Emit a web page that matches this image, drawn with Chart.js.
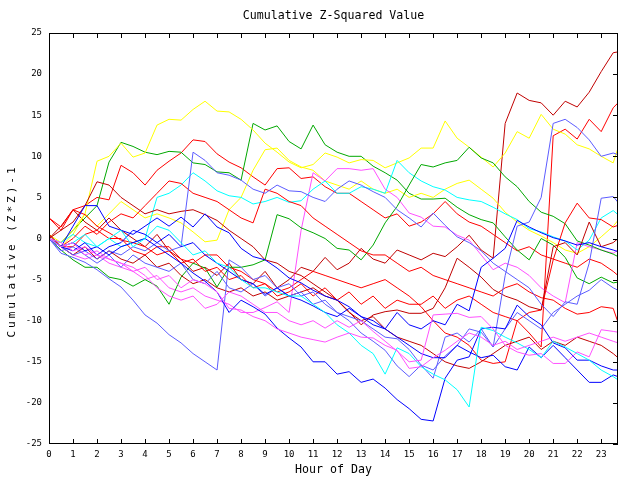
<!DOCTYPE html>
<html>
<head>
<meta charset="utf-8">
<title>Cumulative Z-Squared Value</title>
<style>
body{margin:0;background:#fff;}
canvas{display:block;}
</style>
</head>
<body>
<canvas id="chart" width="640" height="480"></canvas>
<script src="https://cdn.jsdelivr.net/npm/chart.js"></script>
<script>
// hour of day, half-hour steps
const hours = [0,0.5,1,1.5,2,2.5,3,3.5, 4,4.5,5,5.5,6,6.5,7,7.5, 8,8.5,9,9.5,10,10.5,11,11.5,
  12,12.5,13,13.5,14,14.5,15,15.5, 16,16.5,17,17.5,18,18.5,19,19.5, 20,20.5,21,21.5,22,22.5,23,23.5, 23.7];

const darkRed1 = [0,1.5,3.5,2,1,2.5,1,0, -1,0.5,-1.5,-2.5,-4,-3.5,-4.5,-3, -5,-5.5,-4,-6,-5,-3.5,-4,-2.3,
  -3.8,-3,-1.2,-2.5,-3,-1.4,-2,-2.6, -1.8,-2.2,-1,0.4,-1.4,-2.4,14,17.7, 16.8,16.5,15,16.7,16,17.8,20.3,22.6, 22.7];
const darkRed2 = [0,1,2,4,6.9,6.5,5,4, 3,3.5,3,3.3,3.5,2.9,2.2,1, 0,-1,-2.6,-3,-4,-4.5,-5.5,-6.5,
  -7.5,-9,-10,-9.5,-11,-12,-12.5,-13, -14,-15,-15.5,-15.8,-15,-14,-13,-12.5, -12,-13.5,-12.5,-13,-12,-12.5,-13,-14, -14.5];
const darkRed3 = [0.5,-1,-2,-1,-2.5,-1.5,-2.5,-3, -2,-3.5,-3,-4.5,-5.5,-5,-6,-6.5, -6,-7,-6.5,-7.5,-7,-6.5,-6,-7,
  -7.5,-8.9,-10.5,-9.3,-8.9,-8.7,-9.1,-9.1, -8.5,-6,-2.4,-3.5,-4.7,-6.2,-7,-7.5, -8.3,-8.7,-1,-0.5,-2,2,-1,-0.5, 0];
const redB = [0,-1,-1,0.5,1,0,0,-1.5, -2,-1,-1,-2.5,-3,-2,-2,-3.5, -4,-5,-5.5,-6.5,-6,-5,-4,-4.5,
  -5,-5.5,-6,-5.5,-5,-6,-7,-8.3, -10,-11.5,-12,-13,-14.8,-15.2,-15,-10, -11.5,-13.2,12.5,13.3,12.1,14.5,13,15.9, 16.5];
const redD = [2.5,1.4,3.5,2.9,1.5,0.7,-0.2,-0.5, -1,-2,-1.5,-3,-2.5,-4,-3.5,-5, -4.5,-6,-5.5,-7,-6.5,-5.5,-7,-6,
  -7.5,-6.5,-8,-7,-8.5,-7.5,-8,-8, -7,-8.5,-7.5,-7,-8,-9,-9.5,-10, -9,-8.7,-2.6,1.9,4.3,2.5,2.3,1.4, 1.6];
const redE = [2.5,1,3.5,4,5,4.7,8.9,8, 6.5,8.3,9.4,10.4,12,11.8,10.3,9.3, 8.6,7.5,6.5,8.5,8.6,7.3,7.5,6.3,
  5.5,5.5,4.5,3.5,2.5,3,1.5,2, 3,4.5,3,2,1.5,0.5,-0.5,-1.5, -1,-2,-2.5,-3,-3.5,-2.5,-3,-4, -4.5];
const redF = [0.5,-1,0,1.5,0.5,2,3,2.5, 4,5.5,7,6.7,5.5,5,4.5,3.5, 2.5,1.9,6,5.5,4.5,4,2.5,1.5,
  0.5,-0.5,-1.5,-2,-2,-3,-4,-3.5, -4.5,-5,-5.5,-6,-6.5,-7,-6,-5.5, -6.5,-7.2,-7.5,-8.5,-9.2,-9,-8.3,-8.5, -10.2];
const greenA = [0,-0.5,1,2.5,4,9.3,11.7,11.2, 10.5,10.2,10.6,10.5,9.2,9,8.1,8, 7.1,14,13.2,13.7,11.8,10.9,13.8,11.4,
  10.5,10,10,8.8,8,7.1,5.5,4.8, 4.8,4.9,3.8,2.9,2.3,1.9,0.2,-1.4, -2.6,0,-0.8,-2.3,-4.8,-5.5,-4.7,-5.4, -5.3];
const greenD = [0,-1.4,-2.6,-3.5,-3.5,-4.7,-5,-5.8, -5,-5.8,-8,-4.7,-3,-3.6,-5.9,-3.5, -3.5,-3.2,-2.6,2.9,2.4,1.3,0.7,0,
  -1.2,-1.4,-2.6,-0.8,1.9,3.9,6.5,9, 8.7,9.2,9.5,11.1,9.8,9.2,7.5,6.3, 4.5,3.2,2.7,1.8,-0.3,-0.8,-1.4,-1.9, -2.2];
const yellowA = [0,-1,0.5,3,9.4,10,11.6,9.9, 10.4,13.8,14.5,14.4,15.7,16.7,15.5,15.4, 14.5,13.2,11.6,10.5,9.3,8.6,9,10.4,
  9.9,9.2,9.6,9.5,8.6,9.2,9.8,11, 11,14.3,12.2,11.1,9.9,8.7,10.4,13, 12.2,15.1,13.3,12.7,11.4,10.9,10,9.2, 11];
const yellowB = [0.5,-0.5,1,3,1.5,3,4.5,3.5, 2.5,3,2.5,1.9,0.8,-0.4,-0.2,3.5, 5,8.3,10.8,11,9.5,8.7,8.3,7,
  6.5,6,7,6,5.5,6,5,5.5, 5,6,6.7,7.1,6,4.9,3.2,2, 1,0.3,-0.5,-1.4,-1.8,-1,0.2,1.5, 2.2];
const cyanA = [0,-0.5,0.5,-0.5,-1,0,-1,-0.5, 0,5,5.5,6.5,8,7,5.8,5.2, 5,4.2,4.5,5,4.4,4.6,6,7,
  5.5,5.5,6.3,6,5.5,9.5,8,7, 6.3,5.9,5,4.7,4.5,3.8,3,2.3, 1.2,0.8,0.2,-0.3,-1.4,-0.2,2.5,3.4, 2.9];
const cyanB = [0,-1,-0.5,0.5,-1,0,1,-1, 0,1.5,1,-0.5,-2,-1.5,-3,-3.5, -5,-6,-6,-6.5,-7,-7,-8,-9,
  -10.5,-11.5,-13,-14,-16.5,-13.3,-14,-15.6, -16.5,-17.2,-18.4,-20.5,-10.8,-11.2,-12,-12.7, -13.5,-14.5,-12.5,-13.2,-14,-14.8,-16,-16.8, -17.2];
const magentaA = [0,-1,-2,-2.5,-2,-3,-3.5,-4, -5,-4.5,-6,-6.5,-6,-7,-7.5,-8, -9,-9,-8.4,-7.7,-9,1,8,7,
  8.5,8.5,8.3,8.5,6,5,3.1,2.6, 1.5,1.4,0.4,-0.2,-2,-3.8,-3,-3.5, -4.5,-6,-7,-7.8,-0.5,-1,-1.4,-1.8, -1.4];
const magentaB = [0,-0.5,-1.5,-1,-2,-2.5,-3,-3.5, -4.5,-6,-7,-7.5,-7,-8.5,-8,-6.5, -7,-8,-9,-9,-10,-10.5,-10,-10.9,
  -10,-10.8,-10,-11.3,-12.5,-13.7,-15,-14.8, -9.3,-9.2,-9.1,-9.6,-9.5,-11,-13,-13.8, -14.2,-14,-15.2,-15.2,-13.8,-14.4,-11.1,-11.3, -11.4];
const magentaC = [0,-1,-0.5,-2,-1.5,-2.5,-3,-4, -3.5,-5,-4.5,-6,-5,-5.5,-6.5,-8.5, -8.7,-9.5,-10,-11,-11.5,-12,-12.3,-12.6,
  -12,-11.5,-12,-12.1,-13,-13.6,-15.8,-15.6, -14.5,-13.6,-12.5,-11.5,-12,-13,-12.5,-13.5, -13,-12.5,-12,-12.5,-12,-11.5,-12,-12.5, -12.7];
const slate1 = [0,-1.8,-2.3,-2.9,-3.8,-4.9,-5.9,-7.5, -9.3,-10.3,-11.7,-12.7,-14,-15,-16,-2.6, -3.5,-5,-4.5,-6,-5.5,-7,-6.5,-8,
  -9,-10,-11.5,-12.5,-13.6,-15.5,-16.8,-15.4, -17,-12,-11.5,-12.6,-11,-13.2,-11,-9, -10,-11,-9,-8,-7,-6.3,-5,-6, -6.3];
const slate2 = [0,-1.5,-1,-2,-3,-2,-3.5,-2, -3,-3.5,-4,-3,-5,-5.5,-4,-6, -6.5,-5.5,-7,-6,-7,-6.5,-8,-7.5,
  -9,-9.5,-10,-11,-12,-12.2,-13.5,-15.4, -16,-14.3,-13,-11,-11.4,-13.2,-4.5,1.5, 2,5,14,14.5,13.5,12,10,10.4, 10.2];
const slate3 = [0,-1,-2,-1.5,-2.5,-1.5,-2,-1, -1.5,-0.5,-1.5,-1,10.5,9.5,8,7.7, 7.1,6,5.5,6.5,5.8,5.7,5,4.5,
  6,7,6.5,5.7,5,3.5,2.5,1.4, 3.1,1.6,0.2,-0.5,-1.5,-3,-4,-5, -6,-8,-9.5,-7.7,-8,-3,4.9,5.1, 4.4];
const blueA = [0,-1,-0.5,-1.5,-1,-2,-1,-0.5, 0,-1,-2,-3,-4.2,-5.2,-6.5,-9, -7.5,-8.3,-9.2,-10.9,-12.1,-13.2,-15,-15,
  -16.5,-16.2,-17.5,-17.1,-18.2,-19.6,-20.7,-22, -22.2,-17,-14.8,-14.4,-11,-10.8,-11,-8.1, -9.5,-10.5,-12.7,-13.3,-14.8,-14.8,-15.5,-16, -16];
const blueB = [0,-1,1.5,4,4,1.5,1,0.5, 1.5,2.5,1.5,2.6,1.4,3,1.4,0.7, -1.2,-2.2,-2.6,-3.6,-4.8,-5.4,-6.3,-7,
  -7.5,-8.3,-9.5,-10.5,-11,-12,-13,-14, -14.5,-14.5,-13,-13.8,-14.5,-14.2,-15.6,-16, -13.2,-14.5,-13,-14.5,-16,-17.5,-17.5,-16.6, -16.8];
const blueC = [0,-1,-1.5,-0.5,-2,-1,-0.5,1, 0.5,-0.5,0.5,-1,-0.5,-2,-3,-4, -5,-5.5,-6.8,-6,-7,-7.5,-8.2,-9,
  -9.5,-8.5,-9.5,-10,-11,-9,-10.5,-11, -10,-10.5,-8,-8.8,-3.5,-2.4,-1.2,2.2, 1.4,0.7,0.1,-0.3,-0.8,-0.5,-1,-1.4, -1.6];

const colors = {
  red: '#ff0000', darkRed: '#c00000', green: '#00a800', yellow: '#ffff00',
  cyan: '#00ffff', magenta: '#ff50ff', slate: '#5c5cff', blue: '#0000ff'
};

const series = [
  [magentaC, colors.magenta], [magentaB, colors.magenta], [cyanB, colors.cyan],
  [blueA, colors.blue], [blueB, colors.blue], [blueC, colors.blue],
  [slate1, colors.slate], [slate2, colors.slate], [slate3, colors.slate],
  [darkRed2, colors.darkRed], [darkRed3, colors.darkRed], [redF, colors.red], [redD, colors.red],
  [greenD, colors.green], [cyanA, colors.cyan], [magentaA, colors.magenta],
  [yellowB, colors.yellow], [yellowA, colors.yellow], [greenA, colors.green],
  [redE, colors.red], [redB, colors.red], [darkRed1, colors.darkRed]
];

const datasets = series.map(([vals, col]) => ({
  data: vals.map((v, i) => ({x: hours[i], y: v})),
  borderColor: col,
  borderWidth: 1,
  pointRadius: 0,
  tension: 0,
  fill: false
}));

const mono = 'DejaVu Sans Mono';

// frame with inward tick marks (top/bottom for hours, right for values) + spaced y title
const frameTicks = {
  id: 'frameTicks',
  afterDatasetsDraw(chart){
    const {ctx, chartArea: a, scales: {x, y}} = chart;
    ctx.save();
    ctx.strokeStyle = '#000';
    ctx.lineWidth = 1;
    ctx.strokeRect(a.left + 0.5, a.top + 0.5, a.right - a.left - 1, a.bottom - a.top - 1);
    ctx.beginPath();
    x.ticks.forEach(t => {
      const px = Math.round(x.getPixelForValue(t.value)) + 0.5;
      ctx.moveTo(px, a.top); ctx.lineTo(px, a.top + 5);
      ctx.moveTo(px, a.bottom); ctx.lineTo(px, a.bottom - 5);
    });
    y.ticks.forEach(t => {
      const py = Math.round(y.getPixelForValue(t.value)) + 0.5;
      ctx.moveTo(a.right, py); ctx.lineTo(a.right - 5, py);
    });
    ctx.stroke();

    ctx.translate(12, 251);
    ctx.rotate(-Math.PI / 2);
    ctx.font = '11px "' + mono + '"';
    ctx.letterSpacing = '3px';
    ctx.fillStyle = '#000';
    ctx.textAlign = 'center';
    ctx.textBaseline = 'middle';
    ctx.fillText('Cumulative (Z*Z)-1', 0, 0);
    ctx.restore();
  }
};

new Chart(document.getElementById('chart').getContext('2d'), {
  type: 'line',
  data: {datasets},
  plugins: [frameTicks],
  options: {
    responsive: false,
    animation: false,
    devicePixelRatio: 1,
    layout: {padding: {top: 0, right: 22, left: 0, bottom: 0}},
    plugins: {
      legend: {display: false},
      tooltip: {enabled: false},
      title: {
        display: true,
        fullSize: false,
        text: 'Cumulative Z-Squared Value',
        color: '#000',
        font: {family: mono, size: 11.6, weight: 'normal', lineHeight: 14 / 11.6},
        padding: {top: 9, bottom: 10}
      }
    },
    scales: {
      x: {
        type: 'linear',
        min: 0,
        max: 23.7,
        afterFit(s){ s.height = 36; },
        grid: {display: false, drawTicks: false},
        border: {display: false},
        ticks: {stepSize: 1, includeBounds: false, color: '#000', padding: 5, maxRotation: 0,
          font: {family: mono, size: 9}},
        title: {display: true, text: 'Hour of Day', color: '#000',
          font: {family: mono, size: 11.6, lineHeight: 14 / 11.6}, padding: {top: 0, bottom: 3}}
      },
      y: {
        min: -25,
        max: 25,
        afterFit(s){ s.width = 49; },
        grid: {display: false, drawTicks: false},
        border: {display: false},
        ticks: {stepSize: 5, color: '#000', padding: 7, font: {family: mono, size: 9}}
      }
    }
  }
});
</script>
</body>
</html>
